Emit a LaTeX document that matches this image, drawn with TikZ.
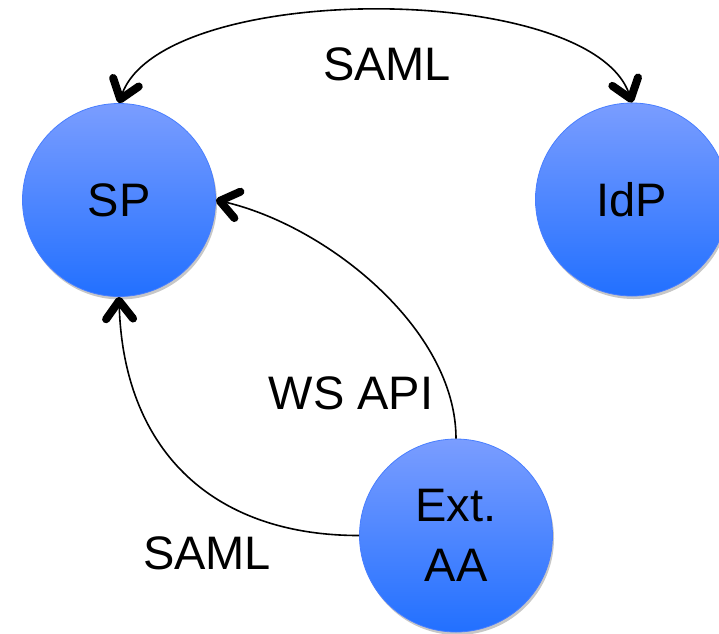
\documentclass[tikz,border=0pt]{standalone}
\usepackage{fontspec}
\setmainfont{Liberation Sans}
\usetikzlibrary{arrows.meta,shadows}
\definecolor{ballTop}{RGB}{122,157,255}
\definecolor{ballBot}{RGB}{34,112,255}
\definecolor{ballLine}{RGB}{72,126,255}
\tikzset{
  ball/.style={circle, minimum size=193pt, inner sep=0pt, draw=ballLine, line width=0.8pt,
    top color=ballTop, bottom color=ballBot, align=center,
    font=\fontsize{47}{60}\selectfont,
    drop shadow={shadow xshift=1.5pt, shadow yshift=-3pt, opacity=0.22, fill=black}},
  lbl/.style={font=\fontsize{47}{56}\selectfont, inner sep=0pt},
  conn/.style={line width=1.6pt, black},
  barb/.tip={Straight Barb[length=18pt, width=27pt, line width'=8pt, round]},
  oneway/.style={-barb},
  twoway/.style={barb-barb}
}
\begin{document}
\begin{tikzpicture}[x=1pt, y=-1pt]
\useasboundingbox (0,0) rectangle (719,633);
\node[ball] (sp)  at (119,200) {SP};
\node[ball] (idp) at (632,199.5) {IdP};
\node[ball] (aa)  at (456,535.5) {Ext.\\AA};
\draw[conn, twoway] (sp.north) .. controls (160,-20) and (592,-20) .. (idp.north);
\draw[conn, oneway] (aa.north) .. controls +(0,-110) and +(110,25) .. (sp.east);
\draw[conn, oneway] (aa.west) .. controls +(-150,0) and +(4,150) .. (sp.south);
\node[lbl] (l1) at (387,64) {SAML};
\node[lbl] (l2) at (351,393) {WS API};
\node[lbl] (l3) at (207,553) {SAML};
\end{tikzpicture}
\end{document}
